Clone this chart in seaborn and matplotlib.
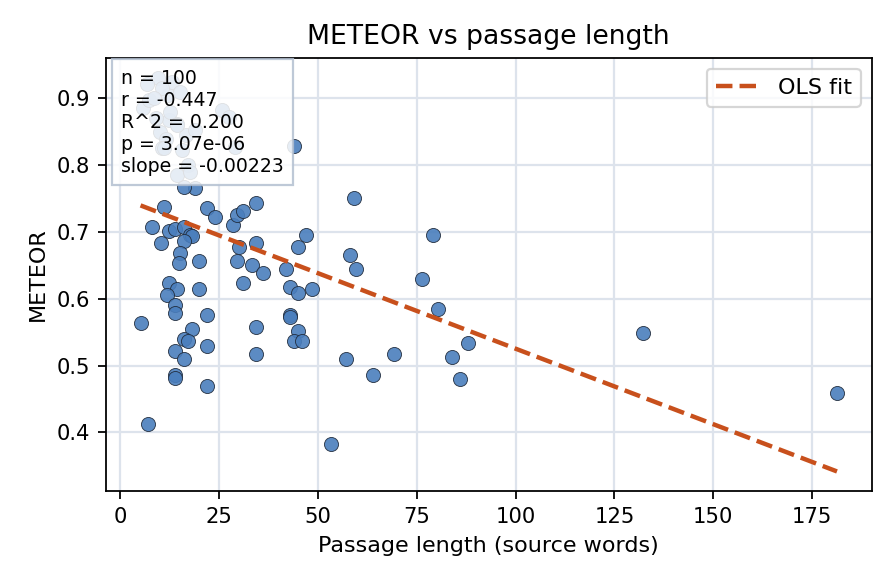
import numpy as np
import pandas as pd
import matplotlib
matplotlib.use("Agg")
import matplotlib.pyplot as plt
import seaborn as sns

# --- dati ---
passage_len = [
    5.1, 7.1, 8.1, 10.4, 11.1, 12.4, 13.7, 16.2, 17.5, 18.2,
    16.0, 15.2, 14.9, 20.0, 22.0, 24.0, 28.4, 29.4, 31.1, 34.2,
    30.1, 34.2, 29.4, 33.2, 36.2, 31.1, 12.2, 14.2, 11.9, 20.0,
    13.9, 13.9, 22.0, 18.0, 16.0, 17.0, 13.9, 16.0, 22.0, 13.9,
    13.9, 22.0, 34.2, 34.2, 43.0, 43.0, 45.0, 44.0, 46.0, 42.0,
    43.0, 45.0, 45.0, 47.0, 44.0, 19.0, 16.0, 59.2, 57.2, 48.4,
    58.2, 59.5, 79.2, 76.2, 80.3, 64.0, 69.2, 84.0, 88.0, 86.0,
    53.2, 132.2, 181.3, 14.2, 9.4, 6.8, 5.6, 12.4, 14.2, 9.9,
    11.6, 10.6, 15.7, 17.0, 25.6, 27.6, 28.9, 16.7, 18.9, 11.0,
    17.5, 7.3, 12.5, 12.0, 13.0, 9.0, 15.0, 10.5, 8.5, 14.2,
]
meteor = [
    0.564, 0.413, 0.708, 0.683, 0.737, 0.702, 0.704, 0.708, 0.696, 0.694,
    0.687, 0.669, 0.654, 0.656, 0.735, 0.722, 0.711, 0.726, 0.731, 0.743,
    0.677, 0.684, 0.657, 0.650, 0.639, 0.624, 0.624, 0.614, 0.605, 0.614,
    0.590, 0.579, 0.575, 0.554, 0.540, 0.536, 0.522, 0.510, 0.530, 0.486,
    0.482, 0.470, 0.557, 0.518, 0.575, 0.572, 0.552, 0.536, 0.536, 0.644,
    0.618, 0.608, 0.678, 0.695, 0.829, 0.765, 0.767, 0.750, 0.510, 0.615,
    0.666, 0.645, 0.696, 0.630, 0.585, 0.486, 0.518, 0.513, 0.533, 0.480,
    0.383, 0.549, 0.459, 0.785, 0.931, 0.921, 0.886, 0.868, 0.861, 0.849,
    0.839, 0.826, 0.823, 0.800, 0.882, 0.872, 0.827, 0.845, 0.853, 0.826,
    0.790, 0.897, 0.880, 0.905, 0.925, 0.870, 0.910, 0.915, 0.900, 0.860,
]
stats_lines = ["n = 100", "r = -0.447", "R^2 = 0.200", "p = 3.07e-06", "slope = -0.00223"]

df = pd.DataFrame({"len": passage_len, "meteor": meteor})

fig, ax = plt.subplots(figsize=(5.6, 3.65), dpi=160)

sns.scatterplot(data=df, x="len", y="meteor", ax=ax, s=40, color="#4a7ebd",
                alpha=0.9, edgecolor="#1f2a3a", linewidth=0.4, zorder=3)

# retta OLS
slope, intercept = np.polyfit(df["len"], df["meteor"], 1)
xs = np.array([df["len"].min(), df["len"].max()])
ax.plot(xs, intercept + slope * xs, ls="--", lw=2, color="#c8501c", label="OLS fit", zorder=4)

ax.grid(True, color="#dde3ec", lw=1, zorder=0)
ax.set_axisbelow(True)
ax.set_title("METEOR vs passage length", fontsize=12)
ax.set_xlabel("Passage length (source words)", fontsize=10)
ax.set_ylabel("METEOR", fontsize=10)
ax.tick_params(labelsize=9.5)
ax.legend(loc="upper right", fontsize=10)

ax.text(0.02, 0.975, "\n".join(stats_lines), transform=ax.transAxes, va="top", ha="left",
        fontsize=8.5, zorder=5,
        bbox=dict(boxstyle="square,pad=0.5", facecolor="white", edgecolor="#b3c0d1", alpha=0.85))

plt.subplots_adjust(left=0.118, right=0.973, top=0.901, bottom=0.159)
plt.savefig("out.png", dpi=160)
